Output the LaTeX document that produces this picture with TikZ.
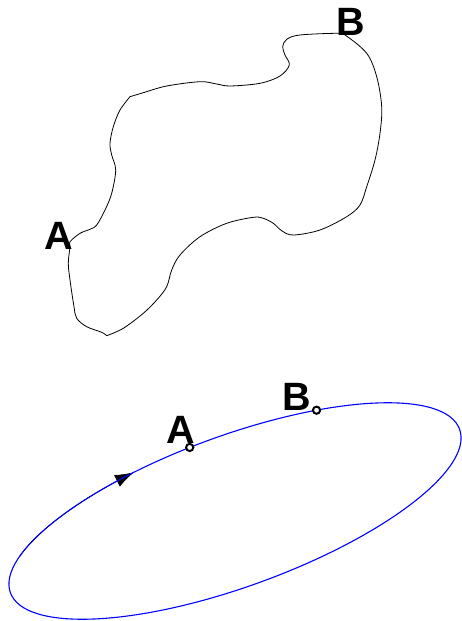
\documentclass[tikz,border=0pt]{standalone}
\usepackage{fontspec}
\setmainfont{Liberation Sans}
\usetikzlibrary{arrows.meta}
\begin{document}
\begin{tikzpicture}[x=1pt,y=-1pt,
  lbl/.style={font=\bfseries\fontsize{39.5}{40}\selectfont, inner sep=0pt},
  pt/.style={circle, draw=black, line width=2pt, fill=white, inner sep=0pt, minimum size=7.2pt},
  outline/.style={draw=black, line width=0.8pt},
  orbit/.style={draw=blue, line width=1.1pt}]
\useasboundingbox (0,0) rectangle (462,621);
% top closed curve
\draw[outline] plot[smooth, tension=0.55] coordinates {
 (106.7,335.7) (101.7,332.3) (86.7,326.7) (76.7,318.3) (74,306.7) (70,280) (68.3,263.3) (70,246.7)
 (70,241.7) (80,233.3) (90,229.3) (96.7,225) (105,210) (111.7,193.3) (115.7,170) (111.7,155)
 (110,143.3) (113.3,126.7) (120,110) (130,96.7)}
 -- plot[smooth, tension=0.55] coordinates {
 (130,96.7) (143.3,92.7) (166.7,86) (200,81.7) (216.7,84) (230,86) (260,83.3) (280,76) (289.3,65)
 (285,55) (282.7,46.7) (286.7,39.3) (300,35) (336.7,33.3) (345,35) (366.7,53.3) (376.7,76.7)
 (381.7,106.7) (380,133.3) (375,160) (366.7,186.7) (360,205) (346.7,216.7) (320,230) (293.3,235)
 (281.7,230.7) (273.3,223.3) (263.3,218.3) (253.3,217.3) (226.7,223.3) (200,236.7) (180,255)
 (171.7,270) (166.7,286.7) (156.7,300) (143.3,313.3) (123.3,328.3) (106.7,335.7)};
\node[lbl] (tA) at (58.5,236) {A};
\node[lbl] (tB) at (350.5,21.5) {B};
% bottom ellipse
\begin{scope}[shift={(235,511)}, y=1pt, rotate=20]
  \coordinate (pA) at ({239*cos(95)},{75.5*sin(95)});
  \coordinate (pB) at ({239*cos(62.3)},{75.5*sin(62.3)});
  \draw[black, line width=0.8pt, -{Latex[length=19pt,width=13pt]}]
     plot[domain=156:110, samples=50] ({239*cos(\x)},{75.5*sin(\x)});
  \draw[orbit] (0,0) ellipse [x radius=239, y radius=75.5];
\end{scope}
\node[pt] (cA) at (pA) {};
\node[pt] (cB) at (pB) {};
\node[lbl] (bA) at (180.7,429.5) {A};
\node[lbl] (bB) at (297,397) {B};
\end{tikzpicture}
\end{document}
